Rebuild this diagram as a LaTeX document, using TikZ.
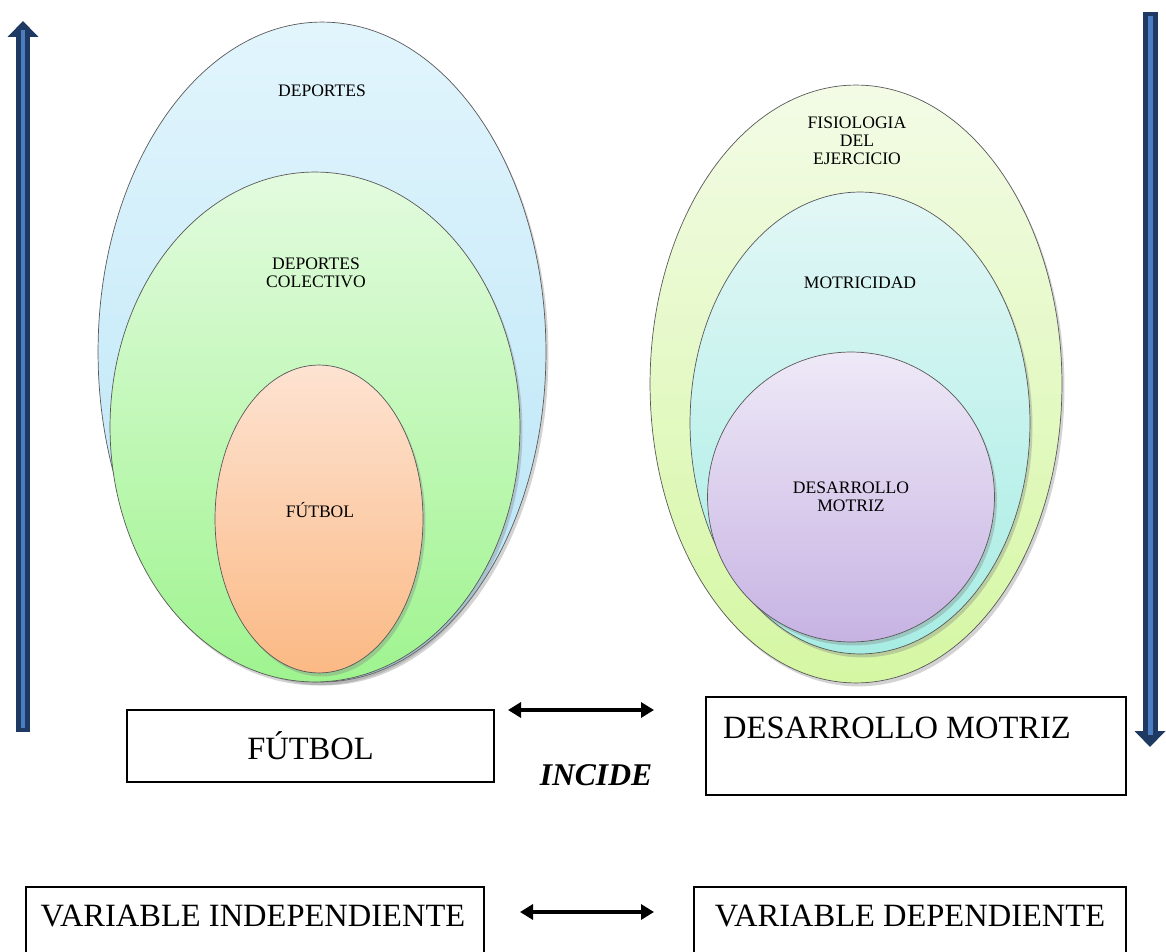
\documentclass[tikz,border=0pt]{standalone}
\usepackage{fontspec}
\setmainfont{Liberation Serif}
\usepackage{tikz}
\usetikzlibrary{arrows.meta}
\usetikzlibrary{shapes.geometric}
\usetikzlibrary{shadows}
\definecolor{navy}{HTML}{1F3A62}
\definecolor{lightnavy}{HTML}{4A7EC0}
\definecolor{skytop}{HTML}{E2F5FD}
\definecolor{skybot}{HTML}{B6E4F6}
\definecolor{greentop}{HTML}{E3FBDF}
\definecolor{greenbot}{HTML}{9FF48F}
\definecolor{peachtop}{HTML}{FDE3D2}
\definecolor{peachbot}{HTML}{FBB984}
\definecolor{limetop}{HTML}{F3FBE6}
\definecolor{limebot}{HTML}{D5F7A3}
\definecolor{aquatop}{HTML}{E2F7F6}
\definecolor{aquabot}{HTML}{A7EDE4}
\definecolor{lilactop}{HTML}{EEE9F7}
\definecolor{lilacbot}{HTML}{C7B3E3}
\tikzstyle{oval} = [draw=black!65, ellipse, inner sep=0pt, line width=0.4pt, drop shadow={shadow xshift=0.05cm, shadow yshift=-0.07cm, opacity=0.35}]
\tikzstyle{small} = [font=\fontsize{10}{10.3}\selectfont, align=center]
\tikzstyle{big} = [font=\fontsize{18.5}{22}\selectfont]
\tikzstyle{box} = [draw, line width=0.9pt, inner sep=0pt]
\tikzstyle{arrow} = [line width=2.3pt, {Triangle[width=0.3cm,length=0.26cm]}-{Triangle[width=0.3cm,length=0.26cm]}]
\tikzstyle{bigarrow} = [navy, line width=0.3cm, -{Triangle[width=0.6cm,length=0.32cm]}]
\tikzstyle{stripe} = [lightnavy, line width=0.1cm]

\begin{document}
\begin{tikzpicture}[x=0.02cm, y=-0.02cm]
	\useasboundingbox (0,0) rectangle (1166,952);

	\node[oval, top color=skytop, bottom color=skybot, minimum width=8.96cm, minimum height=13.2cm](deportes) at (322,352){};
	\node[oval, top color=greentop, bottom color=greenbot, minimum width=8.2cm, minimum height=10.2cm](colectivo) at (315,427){};
	\node[oval, top color=peachtop, bottom color=peachbot, minimum width=4.16cm, minimum height=6.16cm](futbol) at (319,519){};
	\node[small](t1) at (322,91){DEPORTES};
	\node[small](t2) at (316,273){DEPORTES\\COLECTIVO};
	\node[small](t3) at (320,510){FÚTBOL};

	\node[oval, top color=limetop, bottom color=limebot, minimum width=8.24cm, minimum height=11.96cm](fisiologia) at (856,384){};
	\node[oval, top color=aquatop, bottom color=aquabot, minimum width=6.8cm, minimum height=9.24cm](motricidad) at (860,423){};
	\node[oval, top color=lilactop, bottom color=lilacbot, minimum width=5.74cm, minimum height=5.8cm](desarrollo) at (851,497){};
	\node[small](t4) at (857,141){FISIOLOGIA\\DEL\\EJERCICIO};
	\node[small](t5) at (860,283){MOTRICIDAD};
	\node[small](t6) at (851,497){DESARROLLO\\MOTRIZ};

	\node[box, big, minimum width=7.34cm, minimum height=1.44cm](futbox) at (310.5,746){FÚTBOL};
	\node[box, minimum width=8.4cm, minimum height=1.96cm](desbox) at (916,746){};
	\node[big](destext) at (897,728){DESARROLLO MOTRIZ};
	\node[font=\fontsize{18}{22}\selectfont\bfseries\itshape](incide) at (596,775){INCIDE};

	\node[box, minimum width=9.16cm, minimum height=2.4cm](indbox) at (255,947){};
	\node[big](indtext) at (253,916){VARIABLE INDEPENDIENTE};
	\node[box, minimum width=8.64cm, minimum height=2.4cm](depbox) at (910,947){};
	\node[big](deptext) at (910,916){VARIABLE DEPENDIENTE};

	\coordinate(a1) at (508,710);
	\coordinate(a2) at (654,710);
	\coordinate(b1) at (520,912);
	\coordinate(b2) at (654,912);
	\draw[arrow](a1) -- (a2);
	\draw[arrow](b1) -- (b2);

	\coordinate(lbot) at (23,732);
	\coordinate(ltop) at (23,21);
	\coordinate(rtop) at (1150,12);
	\coordinate(rbot) at (1150,747);
	\draw[bigarrow](lbot) -- (ltop);
	\draw[stripe](23,728) -- (23,30);
	\draw[bigarrow](rtop) -- (rbot);
	\draw[stripe](1150,16) -- (1150,735);
\end{tikzpicture}
\end{document}
